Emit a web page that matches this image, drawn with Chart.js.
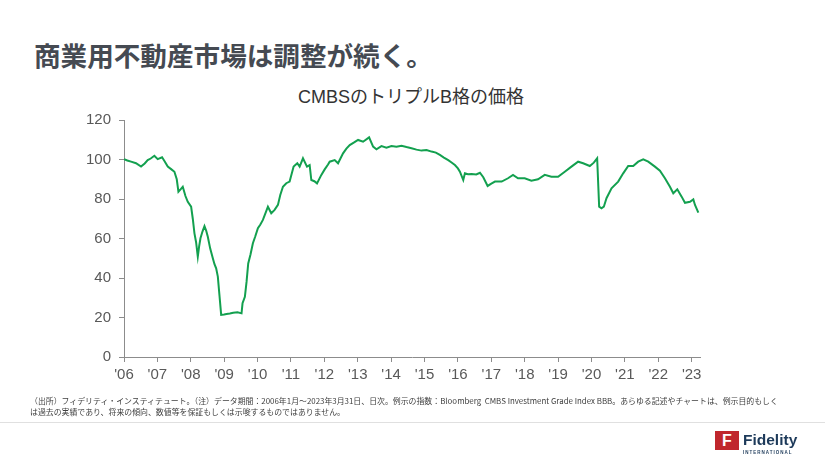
<!DOCTYPE html>
<html lang="ja">
<head>
<meta charset="utf-8">
<script src="https://cdn.jsdelivr.net/npm/chart.js@4"></script>
<style>
  html, body { margin: 0; padding: 0; background: #fff; }
  body { width: 825px; height: 464px; position: relative; overflow: hidden;
         font-family: "Noto Sans CJK JP", "Liberation Sans", sans-serif; }
  #title { position: absolute; left: 34px; top: 42px; font-size: 26.6px; line-height: 1;
           font-weight: bold; color: #454a52; white-space: nowrap; }
  #subtitle { position: absolute; left: 0; width: 822px; top: 88px; text-align: center;
              font-family: "Liberation Sans", "Noto Sans CJK JP", sans-serif;
              font-size: 18px; line-height: 1; color: #333; }
  #wrap { position: absolute; left: 0; top: 0; width: 825px; height: 464px; }
  #note { position: absolute; left: 30px; top: 395px; font-size: 7.9px; line-height: 11px;
          color: #404040; white-space: nowrap; }
  #rule { position: absolute; left: 0; top: 422px; width: 825px; height: 1px; background: #e0e0e0; }
  #logo { position: absolute; left: 715px; top: 431px; width: 24px; height: 19px; background: #c0272d;
          color: #fff; font: bold 16px "Liberation Sans", sans-serif; text-align: center; line-height: 19px; }
  #brand { position: absolute; left: 743px; top: 432px; font: bold 15.5px "Liberation Sans", sans-serif;
           color: #1d3a5a; line-height: 1; }
  #brand2 { position: absolute; left: 743px; top: 450px; font: bold 4.5px "Liberation Sans", sans-serif;
            letter-spacing: 1px; color: #1d3a5a; }
</style>
</head>
<body>
<div id="title">商業用不動産市場は調整が続く。</div>
<div id="subtitle">CMBSのトリプルB格の価格</div>
<div id="wrap"><canvas id="cmbsChart" width="825" height="464"></canvas></div>
<div id="note">（出所）フィデリティ・インスティテュート。（注）データ期間：2006年1月～2023年3月31日、日次。例示の指数：Bloomberg&nbsp; CMBS Investment Grade Index BBB。あらゆる記述やチャートは、例示目的もしく<br>は過去の実績であり、将来の傾向、数値等を保証もしくは示唆するものではありません。</div>
<div id="rule"></div>
<div id="logo">F</div>
<div id="brand">Fidelity</div>
<div id="brand2">INTERNATIONAL</div>

<script>
// 日付（年の小数表記）と価格
const years = [
  2006.00, 2006.10, 2006.21, 2006.36, 2006.51, 2006.62, 2006.71, 2006.80, 2006.91,
  2007.01, 2007.14, 2007.22, 2007.31, 2007.42, 2007.51, 2007.58, 2007.63, 2007.70, 2007.76, 2007.84, 2007.91,
  2008.01, 2008.06, 2008.11, 2008.16, 2008.21, 2008.25, 2008.29, 2008.35, 2008.41, 2008.46, 2008.51,
  2008.58, 2008.66, 2008.71, 2008.76, 2008.81, 2008.86, 2008.91,
  2009.00, 2009.07, 2009.17, 2009.27, 2009.40, 2009.52, 2009.55, 2009.62, 2009.67, 2009.72, 2009.79, 2009.86, 2009.93,
  2010.01, 2010.08, 2010.16, 2010.24, 2010.31, 2010.41, 2010.51, 2010.61, 2010.68, 2010.76, 2010.86, 2010.96,
  2011.08, 2011.19, 2011.26, 2011.36, 2011.48, 2011.56, 2011.61, 2011.70, 2011.78, 2011.91,
  2012.01, 2012.11, 2012.16, 2012.31, 2012.41, 2012.56, 2012.66, 2012.76, 2012.88,
  2013.01, 2013.16, 2013.34, 2013.46, 2013.56, 2013.71, 2013.86,
  2014.01, 2014.16, 2014.31, 2014.46, 2014.61, 2014.76, 2014.91,
  2015.06, 2015.21, 2015.34, 2015.46, 2015.58, 2015.71, 2015.81, 2015.91,
  2016.00, 2016.06, 2016.16, 2016.21, 2016.30, 2016.41, 2016.55, 2016.66, 2016.76, 2016.89,
  2017.00, 2017.11, 2017.31, 2017.50, 2017.65, 2017.80,
  2018.00, 2018.20, 2018.40, 2018.60, 2018.80,
  2019.00, 2019.20, 2019.40, 2019.60, 2019.75, 2019.95,
  2020.07, 2020.17, 2020.23, 2020.30, 2020.37, 2020.45, 2020.60, 2020.80, 2020.95,
  2021.10, 2021.25, 2021.40, 2021.55, 2021.70, 2021.90,
  2022.05, 2022.20, 2022.35, 2022.45, 2022.57, 2022.70, 2022.80, 2022.95,
  2023.05, 2023.10, 2023.20
];
const prices = [
  100.2, 99.5, 98.9, 98.1, 96.4, 98.0, 99.7, 100.5, 101.9,
  100.2, 101.1, 99.0, 96.4, 95.0, 93.8, 90.0, 83.7, 85.0, 86.2, 81.5, 78.6,
  76.1, 70.0, 62.6, 58.0, 50.8, 56.0, 60.1, 63.5, 66.3, 64.0, 60.9,
  55.0, 50.0, 47.0, 44.9, 40.7, 31.0, 21.3,
  21.5, 21.8, 22.0, 22.4, 22.6, 22.1, 27.2, 30.5, 38.0, 47.4, 52.0, 57.6, 61.0,
  65.2, 67.0, 69.4, 73.0, 76.1, 72.8, 74.5, 77.0, 82.0, 86.2, 88.0, 88.8,
  96.4, 98.1, 96.4, 100.6, 96.4, 97.2, 89.6, 89.0, 87.9, 92.2,
  95.0, 97.5, 98.9, 99.7, 98.1, 103.1, 105.5, 107.3, 108.5,
  109.9, 109.0, 111.2, 106.5, 105.2, 106.8, 106.0,
  106.8, 106.5, 107.0, 106.3, 105.7, 105.0, 104.5,
  104.8, 104.0, 103.5, 102.3, 101.0, 99.7, 98.5, 97.2,
  95.5, 93.8, 89.6, 93.0, 92.5, 92.7, 92.4, 93.3, 91.0, 86.6,
  87.8, 88.8, 88.8, 90.5, 92.2, 90.5,
  90.5, 89.3, 90.0, 92.2, 91.3,
  91.3, 93.8, 96.4, 98.9, 98.1, 96.7,
  98.4, 100.6, 76.1, 75.3, 76.1, 80.4, 85.4, 88.8, 93.0,
  96.7, 96.7, 98.9, 100.1, 98.9, 96.4,
  94.3, 90.5, 86.2, 82.9, 84.9, 81.2, 78.1, 78.6,
  79.8, 77.0, 73.1
];
const yTicks = [0, 20, 40, 60, 80, 100, 120];
const yearTicks = [2006, 2007, 2008, 2009, 2010, 2011, 2012, 2013, 2014, 2015, 2016,
                   2017, 2018, 2019, 2020, 2021, 2022, 2023];

const axisFont = { family: '"Liberation Sans", Arial, sans-serif', size: 15 };
const axisColor = '#8c8c8c';

new Chart(document.getElementById('cmbsChart').getContext('2d'), {
  type: 'line',
  data: {
    datasets: [{
      data: years.map((x, i) => ({ x: x, y: prices[i] })),
      borderColor: '#13a04f',
      borderWidth: 2,
      pointRadius: 0,
      tension: 0,
      fill: false
    }]
  },
  options: {
    responsive: false,
    animation: false,
    layout: { padding: { left: 70, right: 125, top: 120, bottom: 77 } },
    plugins: { legend: { display: false }, tooltip: { enabled: false } },
    scales: {
      x: {
        type: 'linear',
        min: 2006,
        max: 2023.25,
        afterBuildTicks: s => { s.ticks = yearTicks.map(v => ({ value: v })); },
        afterFit: s => { s.height = 30; },
        ticks: {
          color: '#595959', font: axisFont, padding: 4, maxRotation: 0, autoSkip: false,
          callback: v => "'" + String(v).slice(2)
        },
        grid: { drawOnChartArea: false, drawTicks: true, tickLength: 5, color: axisColor },
        border: { color: axisColor, width: 1 }
      },
      y: {
        min: 0,
        max: 120,
        afterBuildTicks: s => { s.ticks = yTicks.map(v => ({ value: v })); },
        afterFit: s => { s.width = 54; },
        ticks: { color: '#595959', font: axisFont, padding: 8 },
        grid: { drawOnChartArea: false, drawTicks: true, tickLength: 5, color: axisColor },
        border: { color: axisColor, width: 1 }
      }
    }
  }
});
</script>
</body>
</html>
